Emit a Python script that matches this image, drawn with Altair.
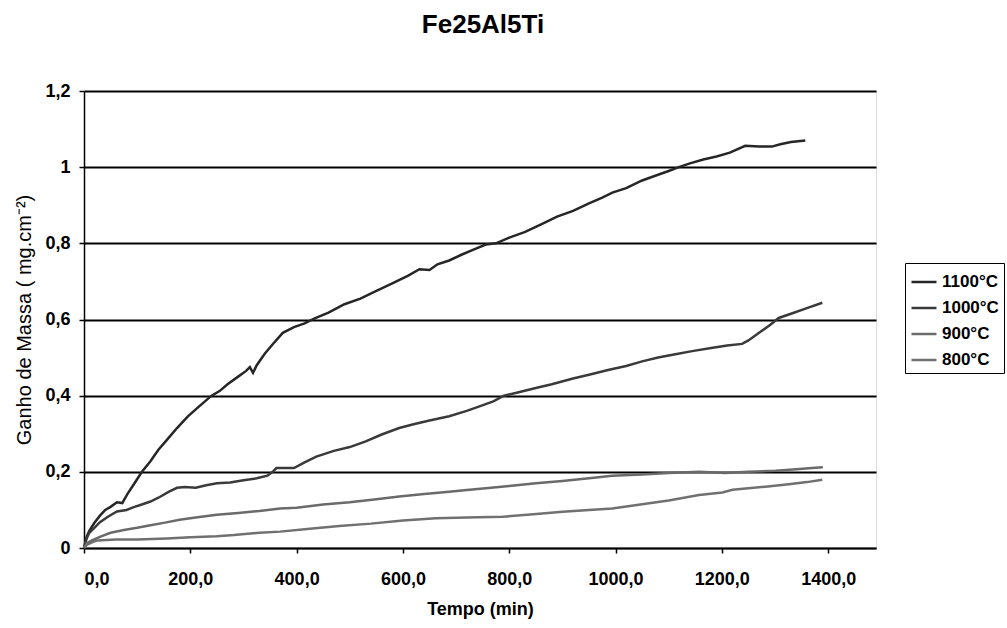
import altair as alt
import pandas as pd

series_names = ["1100°C", "1000°C", "900°C", "800°C"]
series_colors = ["#262626", "#3a3a3a", "#6a6a6a", "#707070"]

t_1100 = [0, 5, 10, 19, 30, 40, 50, 62, 72, 81, 95, 109, 125, 140, 156, 175, 195, 215, 240, 255, 270, 290, 305, 312, 318, 325, 340, 355, 374, 395, 415, 434, 460, 490, 520, 550, 580, 610, 631, 650, 665, 687, 710, 735, 756, 775, 800, 830, 860, 890, 920, 950, 975, 994, 1020, 1050, 1080, 1100, 1119, 1140, 1165, 1190, 1215, 1244, 1270, 1294, 1310, 1330, 1357]
y_1100 = [0, 0.03, 0.045, 0.065, 0.085, 0.1, 0.108, 0.12, 0.118, 0.14, 0.17, 0.2, 0.228, 0.258, 0.284, 0.315, 0.345, 0.37, 0.4, 0.412, 0.43, 0.45, 0.465, 0.475, 0.46, 0.48, 0.51, 0.535, 0.565, 0.58, 0.59, 0.603, 0.618, 0.64, 0.655, 0.675, 0.695, 0.715, 0.732, 0.73, 0.745, 0.755, 0.77, 0.785, 0.797, 0.8, 0.815, 0.83, 0.85, 0.87, 0.885, 0.905, 0.92, 0.933, 0.945, 0.965, 0.98, 0.99, 1.0, 1.01, 1.02, 1.028, 1.038, 1.056, 1.054, 1.054, 1.06, 1.066, 1.07]

t_1000 = [0, 5, 10, 19, 30, 45, 62, 80, 95, 106, 125, 140, 160, 175, 190, 210, 230, 250, 275, 300, 325, 345, 355, 362, 380, 395, 415, 437, 470, 500, 530, 560, 593, 620, 650, 687, 720, 744, 770, 790, 812, 850, 880, 920, 950, 988, 1020, 1050, 1080, 1110, 1144, 1180, 1210, 1238, 1250, 1270, 1290, 1307, 1330, 1360, 1389]
y_1000 = [0, 0.025, 0.04, 0.052, 0.068, 0.082, 0.096, 0.1, 0.108, 0.113, 0.122, 0.132, 0.148, 0.158, 0.16, 0.158, 0.165, 0.17, 0.172, 0.178, 0.183, 0.19, 0.2, 0.21, 0.21, 0.21, 0.225, 0.24, 0.255, 0.265, 0.28, 0.298, 0.315, 0.325, 0.335, 0.346, 0.36, 0.372, 0.385, 0.4, 0.407, 0.42, 0.43, 0.445, 0.455, 0.468, 0.478, 0.49, 0.5, 0.508, 0.517, 0.525, 0.532, 0.536, 0.545, 0.565, 0.585, 0.604, 0.615, 0.63, 0.644]

t_900 = [0, 5, 15, 31, 50, 75, 100, 125, 150, 180, 210, 250, 290, 330, 369, 400, 450, 500, 550, 593, 640, 687, 720, 756, 800, 850, 900, 950, 994, 1050, 1100, 1157, 1207, 1250, 1301, 1340, 1376, 1390]
y_900 = [0, 0.012, 0.02, 0.03, 0.04, 0.047, 0.053, 0.06, 0.066, 0.074, 0.08, 0.087, 0.092, 0.097, 0.104, 0.106, 0.114, 0.12, 0.128, 0.135, 0.142, 0.148, 0.152, 0.157, 0.163, 0.17, 0.176, 0.183, 0.19, 0.193, 0.197, 0.2, 0.197, 0.2, 0.203, 0.207, 0.211, 0.212]

t_800 = [0, 5, 15, 25, 60, 100, 156, 200, 250, 282, 330, 369, 420, 480, 540, 600, 662, 720, 788, 840, 900, 950, 994, 1050, 1100, 1157, 1201, 1220, 1260, 1282, 1330, 1360, 1389]
y_800 = [0, 0.008, 0.015, 0.02, 0.022, 0.022, 0.025, 0.028, 0.031, 0.034, 0.04, 0.043, 0.05, 0.058, 0.064, 0.072, 0.078, 0.08, 0.082, 0.088, 0.095, 0.1, 0.104, 0.115, 0.125, 0.139, 0.146, 0.153, 0.158, 0.161, 0.168, 0.173, 0.179]

x_ticks = [0, 200, 400, 600, 800, 1000, 1200, 1400]
y_ticks = [0, 0.2, 0.4, 0.6, 0.8, 1.0, 1.2]

rows = []
for name, ts, ys in zip(series_names, [t_1100, t_1000, t_900, t_800], [y_1100, y_1000, y_900, y_800]):
    for i, (t, y) in enumerate(zip(ts, ys)):
        rows.append({"serie": name, "tempo": t, "ganho": y, "ordem": i})
df = pd.DataFrame(rows)

FONT = "Liberation Sans"

chart = alt.Chart(df).mark_line(strokeWidth=2.5, interpolate="linear").encode(
    x=alt.X("tempo:Q",
            scale=alt.Scale(domain=[0, 1490], nice=False, zero=True),
            axis=alt.Axis(values=x_ticks, format=".1f",
                          labelExpr="replace(datum.label, '.', ',')",
                          title="Tempo (min)", grid=False,
                          tickSize=5, tickColor="black", tickWidth=1.5,
                          domainColor="black", domainWidth=1.5,
                          labelFont=FONT, labelFontSize=18, labelFontWeight="bold",
                          labelColor="black", labelPadding=17,
                          titleFont=FONT, titleFontSize=18, titleFontWeight="bold",
                          titleColor="black", titlePadding=12)),
    y=alt.Y("ganho:Q",
            scale=alt.Scale(domain=[0, 1.2], nice=False),
            axis=alt.Axis(values=y_ticks, format=".1~f",
                          labelExpr="replace(datum.label, '.', ',')",
                          title="Ganho de Massa ( mg.cm⁻²)", grid=True,
                          gridColor="black", gridWidth=1.8, gridOpacity=1,
                          tickSize=5, tickColor="black", tickWidth=1.5,
                          domainColor="black", domainWidth=1.5,
                          labelFont=FONT, labelFontSize=18, labelFontWeight="bold",
                          labelColor="black", labelPadding=9,
                          titleFont=FONT, titleFontSize=20, titleFontWeight="normal",
                          titleColor="black", titlePadding=10)),
    color=alt.Color("serie:N",
                    scale=alt.Scale(domain=series_names, range=series_colors),
                    sort=series_names,
                    legend=alt.Legend(title=None, orient="none", legendX=821, legendY=172,
                                      symbolType="stroke", symbolStrokeWidth=2.5, symbolSize=625,
                                      labelFont=FONT, labelFontSize=17, labelFontWeight="bold",
                                      labelColor="black", labelOffset=4,
                                      strokeColor="black", padding=5, rowPadding=4,
                                      fillColor="white")),
    order="ordem:Q",
    detail="serie:N",
).properties(
    width=792,
    height=457,
    title=alt.TitleParams(text="Fe25Al5Ti", font=FONT, fontSize=26, fontWeight="bold",
                          color="black", anchor="middle", offset=44, dx=3),
    padding={"left": 84, "top": 91, "right": 131, "bottom": 80},
    autosize="none",
).configure_view(stroke="#888888", strokeWidth=1.5).configure(background="white")

chart.save("out.html", embed_options={"renderer": "svg", "actions": False})
